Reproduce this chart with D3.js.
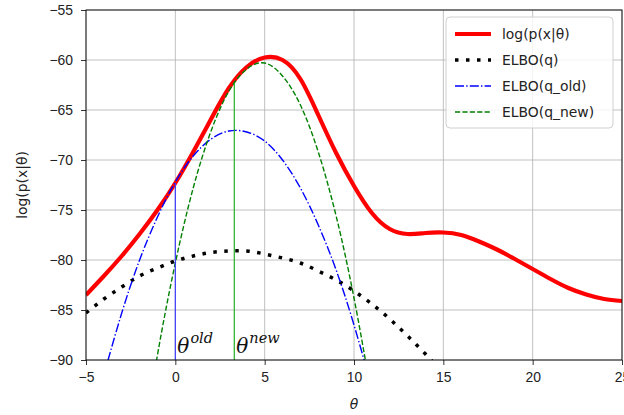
<!DOCTYPE html>
<html>
<head>
<meta charset="utf-8">
<script src="https://cdn.jsdelivr.net/npm/d3@7"></script>
<style>
  body { margin: 0; background: #fff; }
  svg { display: block; font-family: "DejaVu Sans", sans-serif; }
  .grid line { stroke: #b0b0b0; stroke-width: 0.8; }
  .axis text { font-size: 13.9px; fill: #222; }
  .axis path, .axis line { stroke: #000; stroke-width: 0.8; }
</style>
</head>
<body>
<div id="chart"></div>
<script>
// theta grid and curves
const logpTheta = [-5,-4,-3,-2,-1,0,1,2,3,4,5,6,7,8,9,10,11,12,13,14,15,16,17,18,19,20,21,22,23,24,25];
const logpVals  = [-83.5,-81.6,-79.6,-77.4,-75.0,-72.3,-69.2,-65.9,-62.8,-60.7,-59.75,-60.0,-61.9,-65.5,-69.3,-72.6,-75.3,-76.9,-77.4,-77.3,-77.25,-77.5,-78.15,-78.95,-79.9,-80.9,-81.9,-82.8,-83.45,-83.9,-84.1];

const elboTheta = [-5,-4,-3,-2,-1,0,1,2,3,4,5,6,7,8,9,10,11,12,13,14,15];
const elboVals  = [-85.3,-83.9,-82.7,-81.6,-80.8,-80.1,-79.6,-79.25,-79.1,-79.1,-79.4,-79.8,-80.3,-81.1,-82.0,-83.1,-84.4,-85.9,-87.6,-89.4,-91.4];

const oldTheta = [-4,-3,-2,-1,0,1,2,3,4,5,6,7,8,9,10,11];
const oldVals  = [-91.5,-85.3,-80.0,-75.7,-72.2,-69.6,-67.9,-67.1,-67.2,-68.1,-70.0,-72.8,-76.5,-81.0,-86.5,-92.8];

const newTheta = [-2,-1,0,1,2,3,4,5,6,7,8,9,10,11];
const newVals  = [-100.4,-89.5,-80.3,-72.8,-67.1,-63.1,-60.9,-60.3,-61.6,-64.5,-69.2,-75.6,-83.8,-93.7];

const thetaOld = 0, thetaOldTop = -72.3;
const thetaNew = 3.3, thetaNewTop = -62.3;

const xTicks = [-5, 0, 5, 10, 15, 20, 25];
const yTicks = [-55, -60, -65, -70, -75, -80, -85, -90];
const legendLabels = ["log(p(x|\u03b8)", "ELBO(q)", "ELBO(q_old)", "ELBO(q_new)"];

const W = 624, H = 415;
const margin = { top: 10, right: 2, bottom: 55, left: 86 };
const width = W - margin.left - margin.right,
      height = H - margin.top - margin.bottom;

const svg = d3.select('#chart').append('svg')
    .attr('width', W).attr('height', H);
const g = svg.append('g')
    .attr('transform', `translate(${margin.left},${margin.top})`);

const x = d3.scaleLinear().domain([-5, 25]).range([0, width]);
const y = d3.scaleLinear().domain([-90, -55]).range([height, 0]);

g.append('defs').append('clipPath').attr('id', 'clip')
  .append('rect').attr('width', width).attr('height', height);

// grid
const grid = g.append('g').attr('class', 'grid');
grid.selectAll('.gx').data(xTicks).enter().append('line')
    .attr('x1', d => x(d)).attr('x2', d => x(d))
    .attr('y1', 0).attr('y2', height);
grid.selectAll('.gy').data(yTicks).enter().append('line')
    .attr('x1', 0).attr('x2', width)
    .attr('y1', d => y(d)).attr('y2', d => y(d));

const line = d3.line().x(d => x(d[0])).y(d => y(d[1])).curve(d3.curveNatural);
const zip = (a, b) => a.map((t, i) => [t, b[i]]);

const plot = g.append('g').attr('clip-path', 'url(#clip)');

plot.append('path').datum(zip(logpTheta, logpVals))
    .attr('d', line).attr('fill', 'none')
    .attr('stroke', '#ff0000').attr('stroke-width', 4.2);

plot.append('path').datum(zip(elboTheta, elboVals))
    .attr('d', line).attr('fill', 'none')
    .attr('stroke', '#000').attr('stroke-width', 3.5)
    .attr('stroke-dasharray', '3.5,7.5');

plot.append('path').datum(zip(oldTheta, oldVals))
    .attr('d', line).attr('fill', 'none')
    .attr('stroke', '#0000ff').attr('stroke-width', 1.4)
    .attr('stroke-dasharray', '9,2.2,1.4,2.2');

plot.append('path').datum(zip(newTheta, newVals))
    .attr('d', line).attr('fill', 'none')
    .attr('stroke', '#008000').attr('stroke-width', 1.4)
    .attr('stroke-dasharray', '5.2,2.2');

// theta markers
plot.append('line')
    .attr('x1', x(thetaOld)).attr('x2', x(thetaOld))
    .attr('y1', y(-90)).attr('y2', y(thetaOldTop))
    .attr('stroke', '#3b3bff').attr('stroke-width', 1.2);
plot.append('line')
    .attr('x1', x(thetaNew)).attr('x2', x(thetaNew))
    .attr('y1', y(-90)).attr('y2', y(thetaNewTop))
    .attr('stroke', '#22b022').attr('stroke-width', 1.2);

function thetaLabel(t, sup) {
  const txt = g.append('text')
      .attr('x', x(t) + 2).attr('y', y(-89.3))
      .attr('font-family', 'DejaVu Serif, serif')
      .attr('font-style', 'italic')
      .attr('font-size', 20).attr('fill', '#111');
  txt.append('tspan').text('\u03b8');
  txt.append('tspan').attr('dy', -10).attr('dx', 1).attr('font-size', 14.5).text(sup);
}
thetaLabel(thetaOld, 'old');
thetaLabel(thetaNew, 'new');

// axes
g.append('g').attr('class', 'axis')
    .attr('transform', `translate(0,${height})`)
    .call(d3.axisBottom(x).tickValues(xTicks).tickSize(5).tickPadding(7)
      .tickFormat(d => d < 0 ? '\u2212' + Math.abs(d) : d))
    .call(a => a.select('.domain').remove());
g.append('g').attr('class', 'axis')
    .call(d3.axisLeft(y).tickValues(yTicks).tickSize(5).tickPadding(8)
      .tickFormat(d => '\u2212' + Math.abs(d)))
    .call(a => a.select('.domain').remove());

g.append('rect').attr('width', width).attr('height', height)
    .attr('fill', 'none').attr('stroke', '#000').attr('stroke-width', 0.9);

svg.append('text')
    .attr('transform', `translate(27,${margin.top + height / 2}) rotate(-90)`)
    .attr('text-anchor', 'middle').attr('font-size', 13.9).attr('fill', '#222')
    .text('log(p(x|\u03b8)');
svg.append('text')
    .attr('x', margin.left + width / 2).attr('y', 409)
    .attr('text-anchor', 'middle').attr('font-size', 13.9).attr('fill', '#222')
    .attr('font-style', 'italic')
    .text('\u03b8');

// legend
const legend = svg.append('g').attr('transform', 'translate(446,17)');
legend.append('rect').attr('width', 167).attr('height', 111)
    .attr('rx', 4).attr('fill', '#fff').attr('fill-opacity', 0.8)
    .attr('stroke', '#d0d0d0').attr('stroke-width', 1);
const styles = [
  { stroke: '#ff0000', w: 4.2, dash: null },
  { stroke: '#000', w: 3.5, dash: '3.5,7.5' },
  { stroke: '#0000ff', w: 1.4, dash: '9,2.2,1.4,2.2' },
  { stroke: '#008000', w: 1.4, dash: '5.2,2.2' }
];
legendLabels.forEach((lab, i) => {
  const yy = 17 + i * 26;
  legend.append('line')
      .attr('x1', 9).attr('x2', 45).attr('y1', yy).attr('y2', yy)
      .attr('stroke', styles[i].stroke).attr('stroke-width', styles[i].w)
      .attr('stroke-dasharray', styles[i].dash);
  legend.append('text')
      .attr('x', 56).attr('y', yy + 5)
      .attr('font-size', 13.9).attr('fill', '#222')
      .text(lab);
});
</script>
</body>
</html>
